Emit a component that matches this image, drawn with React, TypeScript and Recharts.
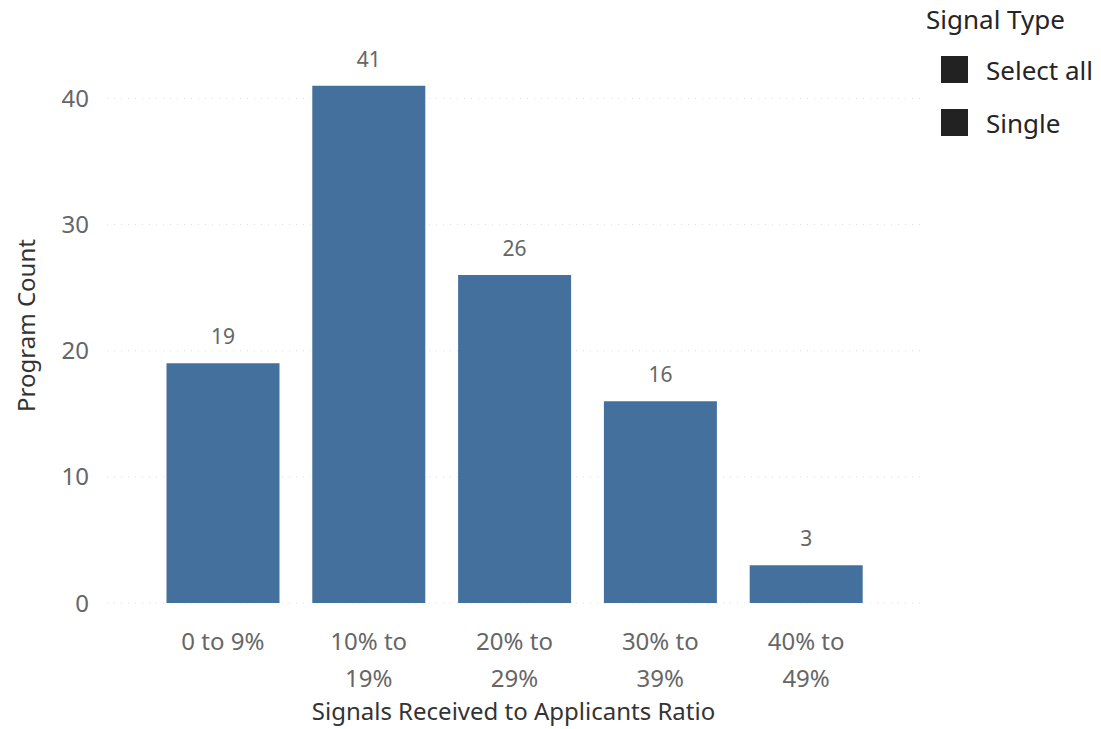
import { Bar, BarChart, CartesianGrid, LabelList, XAxis, YAxis } from 'recharts';

// Ratio buckets and program counts per bucket
const ratioBuckets = ['0 to 9%', '10% to 19%', '20% to 29%', '30% to 39%', '40% to 49%'];
const programCounts = [19, 41, 26, 16, 3];
const yTicks = [0, 10, 20, 30, 40];
const legendItems = ['Select all', 'Single'];

const data = ratioBuckets.map((bucket, i) => ({ bucket, count: programCounts[i] }));

const FONT = '"Segoe UI", "Noto Sans", sans-serif';
const BAR_COLOR = '#44709d';

// Power BI style wrapping: keep "to" on the first line
const splitLabel = (label: string) => {
  if (label.length <= 7) return [label];
  const idx = label.indexOf(' to ');
  return [label.slice(0, idx + 3), label.slice(idx + 4)];
};

const CategoryTick = (props: any) => {
  const { x, y, payload } = props;
  const lines = splitLabel(payload.value);
  return (
    <text x={x} y={y} textAnchor="middle" fill="#666" fontSize={24} fontFamily={FONT}>
      {lines.map((line, i) => (
        <tspan key={i} x={x} dy={i === 0 ? 39 : 37}>
          {line}
        </tspan>
      ))}
    </text>
  );
};

const SignalLegend = () => (
  <div style={{ position: 'absolute', left: 926, top: 3, fontFamily: FONT, color: '#252525' }}>
    <div style={{ fontSize: 26, lineHeight: '32px', marginBottom: 8 }}>Signal Type</div>
    {legendItems.map(item => (
      <div key={item} style={{ display: 'flex', alignItems: 'center', marginLeft: 15, height: 53 }}>
        <div style={{ width: 27, height: 27, background: '#222', marginRight: 18 }} />
        <span style={{ fontSize: 26 }}>{item}</span>
      </div>
    ))}
  </div>
);

export default function App() {
  return (
    <div style={{ position: 'absolute', left: 0, top: 0, width: 1101, height: 729, background: '#fff' }}>
      <BarChart
        width={1101}
        height={729}
        data={data}
        margin={{ top: 48, right: 181, left: 0, bottom: 0 }}
        barCategoryGap={16.5}
      >
        <CartesianGrid vertical={false} horizontalValues={yTicks} stroke="#dcdce6" strokeDasharray="1 6" />
        <XAxis
          dataKey="bucket"
          axisLine={false}
          tickLine={false}
          height={126}
          padding={{ left: 43, right: 41 }}
          tick={<CategoryTick />}
          interval={0}
          label={{
            value: 'Signals Received to Applicants Ratio',
            position: 'insideBottom',
            offset: 9,
            fill: '#333',
            fontSize: 24,
            fontFamily: FONT,
          }}
        />
        <YAxis
          width={107}
          domain={[0, 44]}
          ticks={yTicks}
          axisLine={false}
          tickLine={false}
          tickMargin={12}
          tick={{ fill: '#666', fontSize: 24, fontFamily: FONT }}
          label={{
            value: 'Program Count',
            angle: -90,
            position: 'insideLeft',
            offset: 26,
            style: { textAnchor: 'middle' },
            fill: '#333',
            fontSize: 24,
            fontFamily: FONT,
          }}
        />
        <Bar dataKey="count" fill={BAR_COLOR} isAnimationActive={false}>
          <LabelList dataKey="count" position="top" offset={19} fill="#666" fontSize={21} fontFamily={FONT} />
        </Bar>
      </BarChart>
      <SignalLegend />
    </div>
  );
}
